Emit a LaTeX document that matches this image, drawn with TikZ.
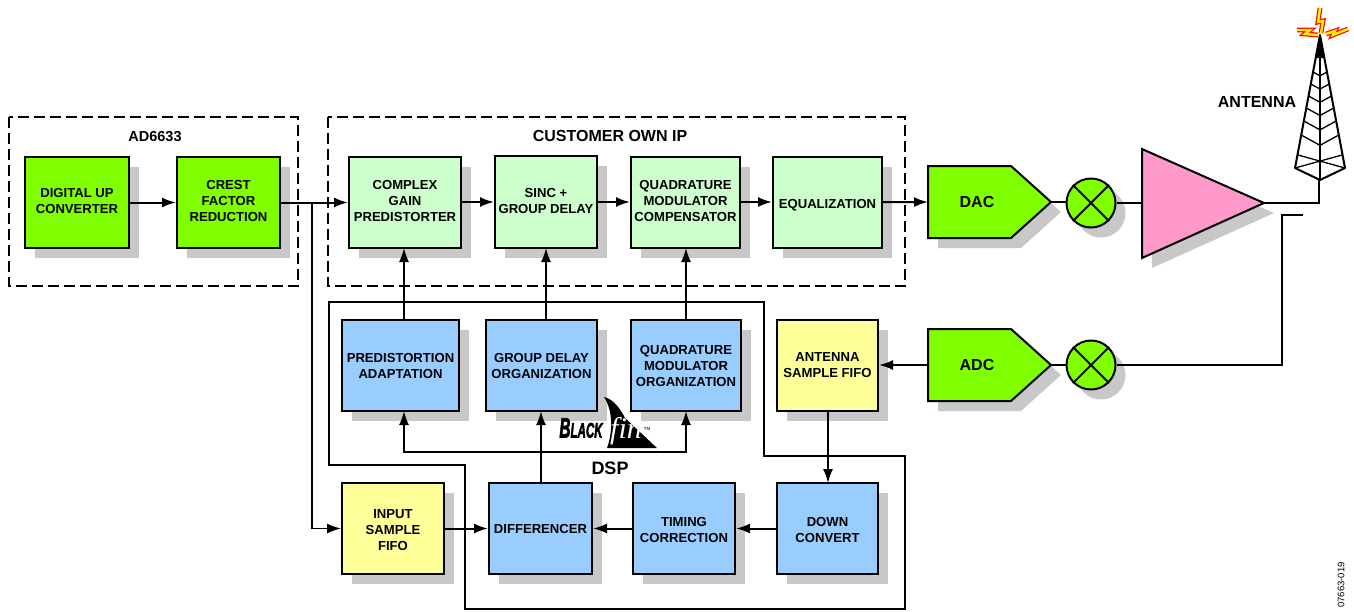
\documentclass[tikz,border=0pt]{standalone}
\usepackage{fontspec}
\setmainfont{Liberation Sans}
\newfontfamily\finfont{Liberation Serif}
\newfontfamily\blackfont[BoldItalicFeatures={FakeBold=3}]{Liberation Sans}
\usetikzlibrary{shadows,arrows.meta,calc}
\definecolor{shad}{HTML}{C8C8C8}
\definecolor{lime}{HTML}{80FF00}
\definecolor{mint}{HTML}{CCFFCC}
\definecolor{sky}{HTML}{99CCFF}
\definecolor{pale}{HTML}{FFFF99}
\definecolor{pink}{HTML}{FF99CC}
\newcommand{\raiseline}{\rule[-3pt]{0pt}{3pt}}
\newcommand{\lowerline}{\rule{0pt}{11.5pt}}
\tikzset{
 x=1pt,y=-1pt,
 >={Latex[length=14pt,width=10pt]},
 shd/.style={general shadow={fill=shad,shadow xshift=10pt,shadow yshift=-10pt}},
 block/.style={draw=black,line width=2pt,shd,align=center,inner sep=0pt,
   font=\fontsize{13.1}{16}\selectfont\bfseries,text=black},
 limebox/.style={block,fill=lime},
 mintbox/.style={block,fill=mint},
 skybox/.style={block,fill=sky},
 palebox/.style={block,fill=pale},
 conn/.style={draw=black,line width=2pt},
 thinconn/.style={draw=black,line width=1.6pt},
 frame/.style={draw=black,line width=1.7pt,dash pattern=on 11pt off 5pt},
 lbl/.style={font=\fontsize{14.5}{17}\selectfont\bfseries,inner sep=0pt},
 biglbl/.style={font=\fontsize{16}{18}\selectfont\bfseries,inner sep=0pt},
 towerline/.style={draw=black,line width=2pt,line join=round},
 towerbar/.style={draw=black,line width=1.3pt},
 boltred/.style={draw=red,line width=4.8pt,line join=miter},
 boltyellow/.style={draw=yellow,line width=2.4pt,line join=miter},
}
\newcommand{\bx}[7]{% style,name,l,t,r,b,text
 \path let \n1={#5-#3},\n2={#6-#4} in node[#1,minimum width=\n1 pt,minimum height=\n2 pt] (#2) at ({(#3+#5)/2},{(#4+#6)/2}) {#7};}
\begin{document}
\begin{tikzpicture}
\useasboundingbox (0,0) rectangle (1354,611);
% frames
\draw[frame] (9,117) rectangle (298,286);
\draw[frame] (328,117) rectangle (905,286);
\node[lbl] (adlabel) at (155,137) {AD6633};
\node[biglbl] (customerlabel) at (610,136) {CUSTOMER OWN IP};
% DSP outline
\draw[black,line width=2.6pt,line join=miter] (329,302) -- (764,302) -- (764,456) -- (905,456) -- (905,609) -- (465,609) -- (465,465) -- (329,465) -- cycle;
\node[font=\fontsize{18}{20}\selectfont\bfseries,inner sep=0pt] (dsplabel) at (610,468) {DSP};
% blocks
\bx{limebox}{duc}{25}{157}{129}{248}{DIGITAL UP\\CONVERTER\raiseline}
\bx{limebox}{cfr}{177}{157}{280}{248}{CREST\\FACTOR\\REDUCTION\raiseline}
\bx{mintbox}{cg}{349}{157}{461}{248}{COMPLEX\\GAIN\\PREDISTORTER\raiseline}
\bx{mintbox}{sinc}{495}{156}{597}{248}{SINC +\\GROUP DELAY\raiseline}
\bx{mintbox}{qmc}{631}{157}{740}{248}{QUADRATURE\\MODULATOR\\COMPENSATOR\raiseline}
\bx{mintbox}{eq}{773}{157}{882}{248}{\rule{0pt}{14pt}EQUALIZATION}
\bx{skybox}{pa}{342}{320}{459}{411}{PREDISTORTION\\ADAPTATION}
\bx{skybox}{gdo}{486}{320}{597}{411}{GROUP DELAY\\ORGANIZATION}
\bx{skybox}{qmo}{631}{320}{741}{411}{QUADRATURE\\MODULATOR\\ORGANIZATION}
\bx{palebox}{asf}{777}{320}{878}{411}{ANTENNA\\SAMPLE FIFO}
\bx{palebox}{isf}{342}{483}{444}{574}{\lowerline INPUT\\SAMPLE\\FIFO}
\bx{skybox}{diff}{489}{483}{592}{574}{DIFFERENCER}
\bx{skybox}{tc}{633}{483}{735}{574}{\lowerline TIMING\\CORRECTION}
\bx{skybox}{dc}{777}{483}{878}{574}{\lowerline DOWN\\CONVERT}
% DAC, ADC
\fill[shad] (938,176) -- (1021,176) -- (1061,212) -- (1021,248) -- (938,248) -- cycle;
\fill[shad] (938,339) -- (1021,339) -- (1061,375) -- (1021,411) -- (938,411) -- cycle;
\draw[black,fill=lime,line width=2pt,line join=miter] (928,166) -- (1011,166) -- (1051,202) -- (1011,238) -- (928,238) -- cycle;
\draw[black,fill=lime,line width=2pt,line join=miter] (928,329) -- (1011,329) -- (1051,365) -- (1011,401) -- (928,401) -- cycle;
\coordinate (dacin) at (928,202);
\coordinate (dacout) at (1051,202);
\coordinate (adcin) at (1051,365);
\coordinate (adcleft) at (928,365);
\node[biglbl] (daclabel) at (977,202) {DAC};
\node[biglbl] (adclabel) at (977,365) {ADC};
% mixers
\node[circle,draw=black,fill=lime,line width=2pt,minimum size=49pt,inner sep=0pt,shd] (mixa) at (1091,203) {};
\node[circle,draw=black,fill=lime,line width=2pt,minimum size=49pt,inner sep=0pt,shd] (mixb) at (1091,365) {};
\foreach \m in {mixa,mixb}{
 \draw[black,line width=1.8pt] (\m.45) -- (\m.225) (\m.135) -- (\m.315);
}
% amplifier
\fill[shad] (1152,159) -- (1152,268) -- (1274,213) -- cycle;
\draw[black,fill=pink,line width=2pt,line join=miter] (1142,149) -- (1142,258) -- (1264,203) -- cycle;
\coordinate (ampin) at (1142,203);
\coordinate (amptip) at (1264,203);
% connectors
\draw[->,conn] (duc) -- (cfr);
\draw[->,conn] (cfr.east |- cg) -- (cg);
\draw[->,conn] (cg.east |- 0,202) -- (sinc.west |- 0,202);
\draw[->,conn] (sinc.east |- 0,202) -- (qmc.west |- 0,202);
\draw[->,conn] (qmc.east |- 0,202) -- (eq.west |- 0,202);
\draw[->,conn] (eq) -- (dacin);
\draw[conn] (dacout) -- (mixa.west |- dacout);
\draw[conn] (mixa.east) -- (ampin);
\coordinate (branch) at (312,202);
\draw[->,thinconn] (branch) |- (isf);
\draw[->,thinconn] (404,320) -- (404,248);
\draw[->,thinconn] (546,320) -- (546,248);
\draw[->,thinconn] (686,320) -- (686,248);
\draw[->,conn] (541,483) -- (541,411);
\draw[->,conn] (isf) -- (diff);
\draw[->,conn] (tc) -- (diff);
\draw[->,conn] (dc) -- (tc);
\draw[->,thinconn] (828,411) -- (828,483);
\draw[->,conn] (adcleft) -- (asf.east |- adcleft);
\draw[conn] (adcin) -- (mixb.west);
\draw[->,thinconn] (541,452) -| (404,411);
\draw[->,thinconn] (541,452) -| (686,411);
\draw[thinconn] (mixb.east) -- (1282,365) -- (1282,215) -- (1303,215);
\draw[black,line width=2.8pt] (amptip) -- (1319,203) -- (1319,180);
% tower
\coordinate (apex) at (1320,35);
\coordinate (bl) at (1295,168);
\coordinate (br) at (1345,168);
\coordinate (bc) at (1320,180);
\draw[towerline] (apex) -- (bl) -- (bc) -- (br) -- cycle;
\draw[towerline] (apex) -- (bc);
\fill[black] (1320,34) .. controls (1321,42) and (1324,50) .. (1325,58) -- (1315,58) .. controls (1316,50) and (1319,42) .. (1320,34) -- cycle;
\foreach \e in {72,84,96,108,121,135}{
  \pgfmathsetmacro{\w}{(\e-35)*25/133}
  \pgfmathsetmacro{\c}{\e+0.55*\w}
  \draw[towerbar] (1320-\w,\e) -- (1320,\c) -- (1320+\w,\e);
}
\draw[towerbar] (1298,155) -- (br) (1342,155) -- (bl);
\node[biglbl] (antlabel) at (1257,102) {ANTENNA};
% sparks
\foreach \s in {boltred,boltyellow}{
 \draw[\s] (1297,30) -- (1310,30) -- (1305,34) -- (1318,35);
 \draw[\s] (1320,8) -- (1318,22) -- (1323,21) -- (1321,33);
 \draw[\s] (1326,34) -- (1335,31) -- (1333,35) -- (1348,29);
}
% Blackfin logo
\fill[black] (604,397) .. controls (613,399) and (620,408) .. (625,418) -- (657,448) -- (607,448) .. controls (612,435) and (614,412) .. (604,397) -- cycle;
\node[inner sep=0pt,text=black,xscale=.55] (blacktext) at (581,428) {\blackfont\bfseries\itshape\fontsize{28}{28}\selectfont B\fontsize{21}{21}\selectfont LACK};
\node[inner sep=0pt,text=white,font=\fontsize{30}{30}\finfont\selectfont\itshape] (fintext) at (626,431) {fin};
\node[inner sep=0pt,text=black!70,font=\fontsize{4.5}{5}\selectfont\bfseries] (tmtext) at (647,429) {TM};
% code
\node[inner sep=0pt,rotate=90,font=\fontsize{9.5}{10}\selectfont,text=black] (code) at (1341,585) {07663-019};
\end{tikzpicture}
\end{document}
